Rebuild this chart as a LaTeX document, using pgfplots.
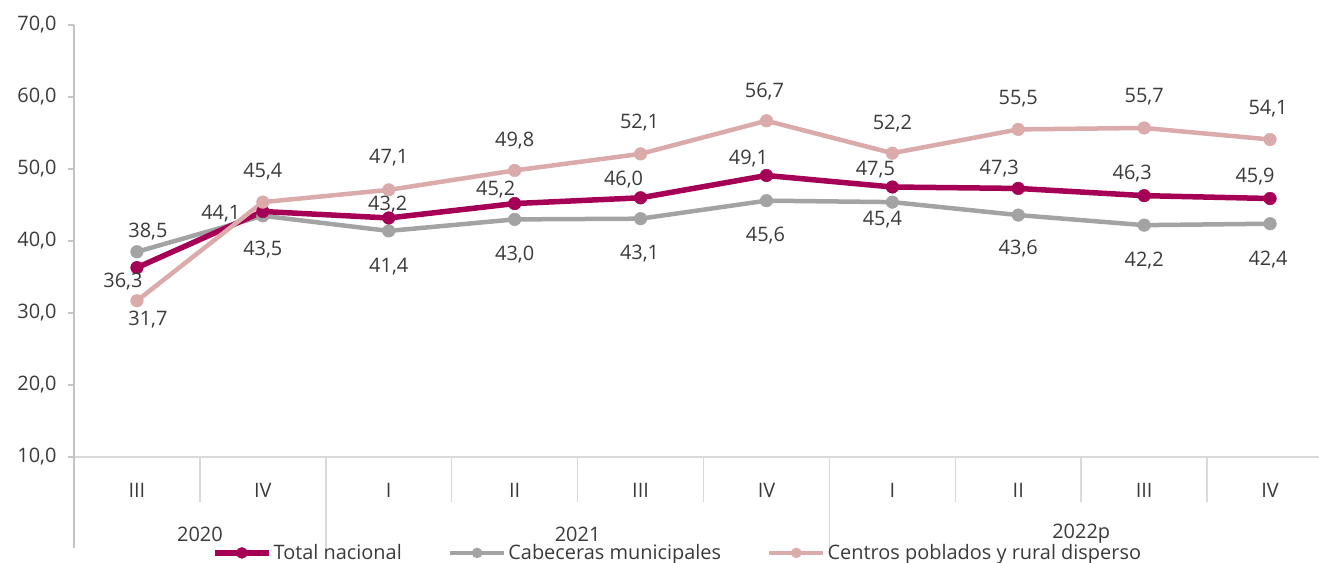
\documentclass[border=0pt]{standalone}
\usepackage{fontspec}
\setmainfont{Open Sans}
\usepackage{pgfplots}
\usepackage{pgfplotstable}
\pgfplotsset{compat=1.18}

\definecolor{totalc}{HTML}{A50055}
\definecolor{cabc}{HTML}{A3A3A3}
\definecolor{cenc}{HTML}{DBAAAA}
\definecolor{txt}{HTML}{3A3A3A}
\definecolor{axc}{HTML}{D9D9D9}
\definecolor{yaxc}{HTML}{C4C4C4}

% x: quarter index, y: value, lbl: shown label, dx/dy: label offset (bp)
\pgfplotstableread{
x y lbl dx dy
0 36.3 36,3 -14 -14
1 44.1 44,1 -42 -2
2 43.2 43,2 -1 13
3 45.2 45,2 -19 14
4 46.0 46,0 -17 18
5 49.1 49,1 -18 17
6 47.5 47,5 -17 17
7 47.3 47,3 -19 20
8 46.3 46,3 -12 22
9 45.9 45,9 -15 22
}\total

\pgfplotstableread{
x y lbl dx dy
0 38.5 38,5 11 20
1 43.5 43,5 0 -34
2 41.4 41,4 0 -36
3 43.0 43,0 0 -35
4 43.1 43,1 -1 -35
5 45.6 45,6 -1 -35
6 45.4 45,4 -10 -18
7 43.6 43,6 0 -33
8 42.2 42,2 0 -35
9 42.4 42,4 -2 -36
}\cabeceras

\pgfplotstableread{
x y lbl dx dy
0 31.7 31,7 11 -19
1 45.4 45,4 0 30
2 47.1 47,1 0 32
3 49.8 49,8 0 30
4 52.1 52,1 -1 31
5 56.7 56,7 -2 29
6 52.2 52,2 0 30
7 55.5 55,5 0 31
8 55.7 55,7 0 31
9 54.1 54,1 -2 31
}\centros

\newcommand{\chartfont}{\fontsize{20}{23}\selectfont}

\begin{document}
\begin{tikzpicture}
\begin{axis}[
  scale only axis, width=1245bp, height=432bp,
  xmin=-0.5, xmax=9.389, ymin=10, ymax=70,
  clip=false,
  axis x line*=bottom, axis y line*=left,
  x axis line style={draw=axc, line width=1.5bp},
  y axis line style={draw=yaxc, line width=1.5bp},
  xtick={0,...,9},
  xticklabels={III,IV,I,II,III,IV,I,II,III,IV},
  xtick style={draw=none},
  xticklabel style={anchor=center, yshift=-27bp},
  ytick={10,20,...,70},
  ytick style={draw=yaxc, line width=1.5bp},
  tick align=outside, major tick length=6bp,
  tick label style={font=\chartfont, text=txt},
  yticklabel style={anchor=east, xshift=-8bp},
  /pgf/number format/fixed, /pgf/number format/fixed zerofill,
  /pgf/number format/precision=1, /pgf/number format/use comma,
  /pgf/number format/assume math mode=true,
  legend style={at={(axis description cs:0.1108,-0.2220)}, anchor=west,
    draw=none, fill=none, inner sep=0pt, font=\chartfont, text=txt,
    nodes={inner xsep=2bp, inner ysep=0pt},
    /tikz/every even column/.append style={column sep=44bp}},
  legend columns=3, legend cell align=left,
  legend image code/.code={\draw[mark repeat=2,mark phase=2,#1]
    plot coordinates {(0bp,0bp) (27bp,0bp) (54bp,0bp)};},
  nodes near coords,
  point meta=explicit symbolic,
  visualization depends on={\thisrow{dx} \as \dx},
  visualization depends on={\thisrow{dy} \as \dy},
  nodes near coords style={anchor=center, xshift=\dx bp, yshift=\dy bp,
    font=\chartfont, text=txt, inner sep=0pt},
]
% legend in the reference's order
\addlegendimage{totalc, line width=5.5bp, mark=*, mark size=5.5bp, mark options={line width=0.5bp}}
\addlegendentry{Total nacional}
\addlegendimage{cabc, line width=4.5bp, mark=*, mark size=5bp, mark options={line width=0.5bp}}
\addlegendentry{Cabeceras municipales}
\addlegendimage{cenc, line width=4.5bp, mark=*, mark size=5bp, mark options={line width=0.5bp}}
\addlegendentry{Centros poblados y rural disperso}

% drawing order: grey, magenta, pink on top
\addplot[forget plot, cabc, line width=4.5bp, mark=*, mark size=6.3bp, mark options={line width=0.5bp}]
  table[x=x, y=y, meta=lbl] {\cabeceras};
\addplot[forget plot, totalc, line width=5.5bp, mark=*, mark size=6.3bp, mark options={line width=0.5bp}]
  table[x=x, y=y, meta=lbl] {\total};
\addplot[forget plot, cenc, line width=4.5bp, mark=*, mark size=6.3bp, mark options={line width=0.5bp}]
  table[x=x, y=y, meta=lbl] {\centros};

% category separators under the axis
\draw[axc, line width=1.5bp]
  (axis cs:0.5,10) -- ++(0bp,-45bp)
  (axis cs:2.5,10) -- ++(0bp,-45bp)
  (axis cs:3.5,10) -- ++(0bp,-45bp)
  (axis cs:4.5,10) -- ++(0bp,-45bp)
  (axis cs:6.5,10) -- ++(0bp,-45bp)
  (axis cs:7.5,10) -- ++(0bp,-45bp)
  (axis cs:8.5,10) -- ++(0bp,-45bp)
  (axis cs:1.5,10) -- ++(0bp,-91bp)
  (axis cs:5.5,10) -- ++(0bp,-91bp);
\draw[yaxc, line width=1.5bp] (axis cs:-0.5,10) -- ++(0bp,-91bp);

\node[font=\chartfont, text=txt, inner sep=0pt] at (axis cs:0.5,10) [yshift=-77bp] {2020};
\node[font=\chartfont, text=txt, inner sep=0pt] at (axis cs:3.5,10) [yshift=-77bp] {2021};
\node[font=\chartfont, text=txt, inner sep=0pt] at (axis cs:7.5,10) [yshift=-77bp] {2022p};
\end{axis}
\pgfresetboundingbox
\path[use as bounding box] (-74bp,-106bp) rectangle (1245bp,457bp);
\end{tikzpicture}
\end{document}
